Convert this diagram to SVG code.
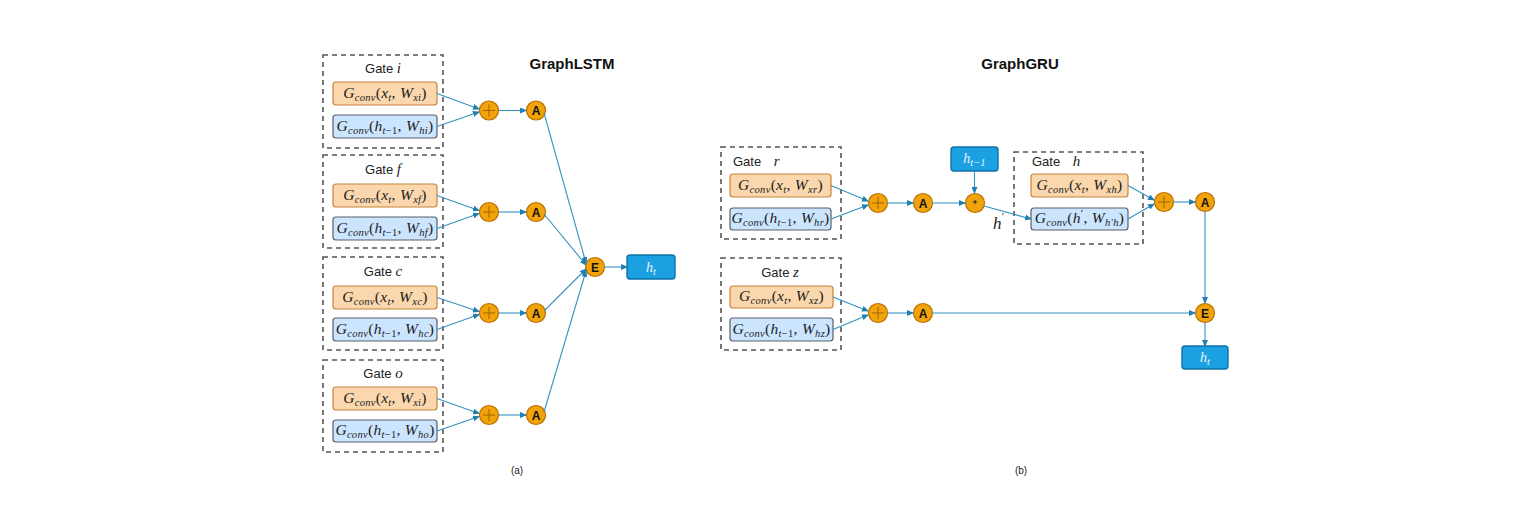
<svg xmlns="http://www.w3.org/2000/svg" width="1531" height="520" viewBox="0 0 1531 520">
<style>
.bg{fill:#fff}
.gate{fill:none;stroke:#555;stroke-width:1.6;stroke-dasharray:5,4}
.or{fill:#fad7ac;stroke:#c8843a;stroke-width:1.2}
.bl{fill:#cce5ff;stroke:#5a5f66;stroke-width:1.2}
.hb{fill:#1ba1e2;stroke:#1070a8;stroke-width:1.4}
.cir{fill:#f0a30a;stroke:#bd7000;stroke-width:1.2}
.pl{stroke:#a36200;stroke-width:1}
.m{font-family:"Liberation Serif",serif;font-style:italic;font-size:15.5px;fill:#222;letter-spacing:0.3px}
.r{font-style:normal}
.s{font-size:10.5px}
.g{font-family:"Liberation Sans",Arial,sans-serif;font-size:13px;fill:#222}
.gi{font-family:"Liberation Serif",serif;font-style:italic;font-size:15px}
.op{font-family:"Liberation Sans",Arial,sans-serif;font-weight:bold;font-size:12px;fill:#111;text-anchor:middle}
.ti{font-family:"Liberation Sans",Arial,sans-serif;font-weight:bold;font-size:15px;fill:#111;text-anchor:middle}
.cap{font-family:"Liberation Sans",Arial,sans-serif;font-size:10px;fill:#222;text-anchor:middle}
.hw{font-family:"Liberation Serif",serif;font-style:italic;font-size:14px;fill:#eaf6ff;text-anchor:middle}
.c{fill:none;stroke:#3592c2;stroke-width:1.1;marker-end:url(#ah)}
</style>
<defs>
<marker id="ah" markerWidth="7" markerHeight="6" refX="6" refY="3" orient="auto" markerUnits="userSpaceOnUse">
<path d="M0,0 L7,3 L0,6 z" fill="#1f7fb0"/>
</marker>
</defs>
<rect class="bg" x="0" y="0" width="1531" height="520"/>

<text class="ti" x="572" y="69">GraphLSTM</text>
<text class="ti" x="1020" y="69">GraphGRU</text>
<text class="cap" x="517" y="474">(a)</text>
<text class="cap" x="1021" y="474">(b)</text>

<!-- Left panel gates -->
<g id="gate-i">
<rect class="gate" x="323" y="55" width="120" height="93"/>
<text class="g" x="383" y="73" text-anchor="middle">Gate <tspan class="gi">i</tspan></text>
<rect class="or" x="333" y="82" width="104" height="23" rx="3"/>
<text class="m" x="385" y="98" text-anchor="middle">G<tspan class="s" dy="3">conv</tspan><tspan class="r" dy="-3">(</tspan>x<tspan class="s" dy="3">t</tspan><tspan class="r" dy="-3">, </tspan>W<tspan class="s" dy="3">xi</tspan><tspan class="r" dy="-3">)</tspan></text>
<rect class="bl" x="333" y="115" width="104" height="23" rx="3"/>
<text class="m" x="385" y="131" text-anchor="middle">G<tspan class="s" dy="3">conv</tspan><tspan class="r" dy="-3">(</tspan>h<tspan class="s" dy="3">t<tspan class="r">−1</tspan></tspan><tspan class="r" dy="-3">, </tspan>W<tspan class="s" dy="3">hi</tspan><tspan class="r" dy="-3">)</tspan></text>
</g>
<g id="gate-f">
<rect class="gate" x="323" y="155" width="120" height="93"/>
<text class="g" x="383" y="174" text-anchor="middle">Gate <tspan class="gi">f</tspan></text>
<rect class="or" x="333" y="184" width="104" height="23" rx="3"/>
<text class="m" x="385" y="200" text-anchor="middle">G<tspan class="s" dy="3">conv</tspan><tspan class="r" dy="-3">(</tspan>x<tspan class="s" dy="3">t</tspan><tspan class="r" dy="-3">, </tspan>W<tspan class="s" dy="3">xf</tspan><tspan class="r" dy="-3">)</tspan></text>
<rect class="bl" x="333" y="217" width="104" height="23" rx="3"/>
<text class="m" x="385" y="233" text-anchor="middle">G<tspan class="s" dy="3">conv</tspan><tspan class="r" dy="-3">(</tspan>h<tspan class="s" dy="3">t<tspan class="r">−1</tspan></tspan><tspan class="r" dy="-3">, </tspan>W<tspan class="s" dy="3">hf</tspan><tspan class="r" dy="-3">)</tspan></text>
</g>
<g id="gate-c">
<rect class="gate" x="323" y="257" width="120" height="93"/>
<text class="g" x="383" y="276" text-anchor="middle">Gate <tspan class="gi">c</tspan></text>
<rect class="or" x="333" y="286" width="104" height="23" rx="3"/>
<text class="m" x="385" y="302" text-anchor="middle">G<tspan class="s" dy="3">conv</tspan><tspan class="r" dy="-3">(</tspan>x<tspan class="s" dy="3">t</tspan><tspan class="r" dy="-3">, </tspan>W<tspan class="s" dy="3">xc</tspan><tspan class="r" dy="-3">)</tspan></text>
<rect class="bl" x="333" y="318" width="104" height="23" rx="3"/>
<text class="m" x="385" y="334" text-anchor="middle">G<tspan class="s" dy="3">conv</tspan><tspan class="r" dy="-3">(</tspan>h<tspan class="s" dy="3">t<tspan class="r">−1</tspan></tspan><tspan class="r" dy="-3">, </tspan>W<tspan class="s" dy="3">hc</tspan><tspan class="r" dy="-3">)</tspan></text>
</g>
<g id="gate-o">
<rect class="gate" x="323" y="360" width="120" height="92"/>
<text class="g" x="383" y="378" text-anchor="middle">Gate <tspan class="gi">o</tspan></text>
<rect class="or" x="333" y="387" width="104" height="23" rx="3"/>
<text class="m" x="385" y="403" text-anchor="middle">G<tspan class="s" dy="3">conv</tspan><tspan class="r" dy="-3">(</tspan>x<tspan class="s" dy="3">t</tspan><tspan class="r" dy="-3">, </tspan>W<tspan class="s" dy="3">xi</tspan><tspan class="r" dy="-3">)</tspan></text>
<rect class="bl" x="333" y="420" width="104" height="22" rx="3"/>
<text class="m" x="385" y="435" text-anchor="middle">G<tspan class="s" dy="3">conv</tspan><tspan class="r" dy="-3">(</tspan>h<tspan class="s" dy="3">t<tspan class="r">−1</tspan></tspan><tspan class="r" dy="-3">, </tspan>W<tspan class="s" dy="3">ho</tspan><tspan class="r" dy="-3">)</tspan></text>
</g>

<!-- Right panel gates -->
<g id="gate-r">
<rect class="gate" x="721" y="147" width="120" height="92"/>
<text class="g" x="733" y="166">Gate <tspan class="gi" dx="9">r</tspan></text>
<rect class="or" x="730" y="174" width="101" height="23" rx="3"/>
<text class="m" x="780.5" y="190" text-anchor="middle">G<tspan class="s" dy="3">conv</tspan><tspan class="r" dy="-3">(</tspan>x<tspan class="s" dy="3">t</tspan><tspan class="r" dy="-3">, </tspan>W<tspan class="s" dy="3">xr</tspan><tspan class="r" dy="-3">)</tspan></text>
<rect class="bl" x="730" y="208" width="101" height="22" rx="3"/>
<text class="m" x="780.5" y="223" text-anchor="middle">G<tspan class="s" dy="3">conv</tspan><tspan class="r" dy="-3">(</tspan>h<tspan class="s" dy="3">t<tspan class="r">−1</tspan></tspan><tspan class="r" dy="-3">, </tspan>W<tspan class="s" dy="3">hr</tspan><tspan class="r" dy="-3">)</tspan></text>
</g>
<g id="gate-z">
<rect class="gate" x="721" y="258" width="120" height="92"/>
<text class="g" x="780" y="277" text-anchor="middle">Gate <tspan class="gi">z</tspan></text>
<rect class="or" x="730" y="286" width="103" height="22" rx="3"/>
<text class="m" x="781.5" y="301" text-anchor="middle">G<tspan class="s" dy="3">conv</tspan><tspan class="r" dy="-3">(</tspan>x<tspan class="s" dy="3">t</tspan><tspan class="r" dy="-3">, </tspan>W<tspan class="s" dy="3">xz</tspan><tspan class="r" dy="-3">)</tspan></text>
<rect class="bl" x="730" y="318" width="103" height="23" rx="3"/>
<text class="m" x="781.5" y="334" text-anchor="middle">G<tspan class="s" dy="3">conv</tspan><tspan class="r" dy="-3">(</tspan>h<tspan class="s" dy="3">t<tspan class="r">−1</tspan></tspan><tspan class="r" dy="-3">, </tspan>W<tspan class="s" dy="3">hz</tspan><tspan class="r" dy="-3">)</tspan></text>
</g>
<g id="gate-h">
<rect class="gate" x="1014" y="152" width="129" height="92"/>
<text class="g" x="1032" y="166">Gate <tspan class="gi" dx="9">h</tspan></text>
<rect class="or" x="1031" y="174" width="97" height="23" rx="3"/>
<text class="m" x="1079.5" y="190" text-anchor="middle">G<tspan class="s" dy="3">conv</tspan><tspan class="r" dy="-3">(</tspan>x<tspan class="s" dy="3">t</tspan><tspan class="r" dy="-3">, </tspan>W<tspan class="s" dy="3">xh</tspan><tspan class="r" dy="-3">)</tspan></text>
<rect class="bl" x="1031" y="208" width="97" height="22" rx="3"/>
<text class="m" x="1079.5" y="223" text-anchor="middle">G<tspan class="s" dy="3">conv</tspan><tspan class="r" dy="-3">(</tspan>h<tspan class="s r" dy="-6">′</tspan><tspan class="r" dy="6">, </tspan>W<tspan class="s" dy="3">h′h</tspan><tspan class="r" dy="-3">)</tspan></text>
</g>

<!-- Operator nodes: left -->
<g id="plus-i"><circle class="cir" cx="489" cy="110.5" r="9.5"/><path class="pl" d="M483,110.5 H495 M489,104.5 V116.5"/></g>
<g id="plus-f"><circle class="cir" cx="489" cy="212" r="9.5"/><path class="pl" d="M483,212 H495 M489,206 V218"/></g>
<g id="plus-c"><circle class="cir" cx="489" cy="313" r="9.5"/><path class="pl" d="M483,313 H495 M489,307 V319"/></g>
<g id="plus-o"><circle class="cir" cx="489" cy="415" r="9.5"/><path class="pl" d="M483,415 H495 M489,409 V421"/></g>
<g id="act-i"><circle class="cir" cx="536" cy="110.5" r="9.5"/><text class="op" x="536" y="115">A</text></g>
<g id="act-f"><circle class="cir" cx="536" cy="212" r="9.5"/><text class="op" x="536" y="216.5">A</text></g>
<g id="act-c"><circle class="cir" cx="536" cy="313" r="9.5"/><text class="op" x="536" y="317.5">A</text></g>
<g id="act-o"><circle class="cir" cx="536" cy="415" r="9.5"/><text class="op" x="536" y="419.5">A</text></g>
<g id="E-left"><circle class="cir" cx="595" cy="267" r="9.5"/><text class="op" x="595" y="271.5">E</text></g>
<g id="ht-left"><rect class="hb" x="627" y="255" width="48" height="24" rx="3"/><text class="hw" x="651" y="272">h<tspan class="s" dy="3">t</tspan></text></g>

<!-- Operator nodes: right -->
<g id="plus-r"><circle class="cir" cx="878" cy="203" r="9.5"/><path class="pl" d="M872,203 H884 M878,197 V209"/></g>
<g id="act-r"><circle class="cir" cx="923" cy="203" r="9.5"/><text class="op" x="923" y="207.5">A</text></g>
<g id="mul"><circle class="cir" cx="975" cy="203" r="9.5"/><text class="op" x="975" y="208" style="font-weight:normal;font-size:11px">*</text></g>
<g id="htm1"><rect class="hb" x="951" y="147" width="47" height="24" rx="3"/><text class="hw" x="974.5" y="163">h<tspan class="s" dy="3">t−1</tspan></text></g>
<g id="hprime"><text class="m" x="993" y="229" style="font-size:17px">h<tspan dy="-9" class="r" style="font-size:11px">′</tspan></text></g>
<g id="plus-h"><circle class="cir" cx="1164" cy="202" r="9.5"/><path class="pl" d="M1158,202 H1170 M1164,196 V208"/></g>
<g id="act-h"><circle class="cir" cx="1205" cy="202" r="9.5"/><text class="op" x="1205" y="206.5">A</text></g>
<g id="plus-z"><circle class="cir" cx="878" cy="313" r="9.5"/><path class="pl" d="M872,313 H884 M878,307 V319"/></g>
<g id="act-z"><circle class="cir" cx="923" cy="313" r="9.5"/><text class="op" x="923" y="317.5">A</text></g>
<g id="E-right"><circle class="cir" cx="1205" cy="313" r="9.5"/><text class="op" x="1205" y="317.5">E</text></g>
<g id="ht-right"><rect class="hb" x="1182" y="346" width="46" height="23" rx="3"/><text class="hw" x="1205" y="362">h<tspan class="s" dy="3">t</tspan></text></g>

<g id="connectors">
<path class="c" d="M437,93.5 L479,109"/>
<path class="c" d="M437,126.5 L479,112"/>
<path class="c" d="M498.5,110.5 H526"/>
<path class="c" d="M437,195.5 L479,210.5"/>
<path class="c" d="M437,228.5 L479,213.5"/>
<path class="c" d="M498.5,212 H526"/>
<path class="c" d="M437,297.5 L479,311.5"/>
<path class="c" d="M437,329.5 L479,314.5"/>
<path class="c" d="M498.5,313 H526"/>
<path class="c" d="M437,398.5 L479,413.5"/>
<path class="c" d="M437,431 L479,416.5"/>
<path class="c" d="M498.5,415 H526"/>
<path class="c" d="M544,113 L586,263"/>
<path class="c" d="M544,214 L586,265"/>
<path class="c" d="M544,311 L586,269"/>
<path class="c" d="M544,412 L586,271"/>
<path class="c" d="M604.5,267 H627"/>

<path class="c" d="M831,185.5 L868,201"/>
<path class="c" d="M831,219 L868,205"/>
<path class="c" d="M887.5,203 H913"/>
<path class="c" d="M932.5,203 H965"/>
<path class="c" d="M974.5,171 V193"/>
<path class="c" d="M984,206 L1031,219"/>
<path class="c" d="M1128,185.5 L1154,200"/>
<path class="c" d="M1128,219 L1154,204"/>
<path class="c" d="M1173.5,202 H1195"/>
<path class="c" d="M1205,211.5 V303"/>
<path class="c" d="M833,297 L868,311"/>
<path class="c" d="M833,329.5 L868,315"/>
<path class="c" d="M887.5,313 H913"/>
<path class="c" d="M932.5,313 H1195"/>
<path class="c" d="M1205,322.5 V346"/>
</g>
</svg>
